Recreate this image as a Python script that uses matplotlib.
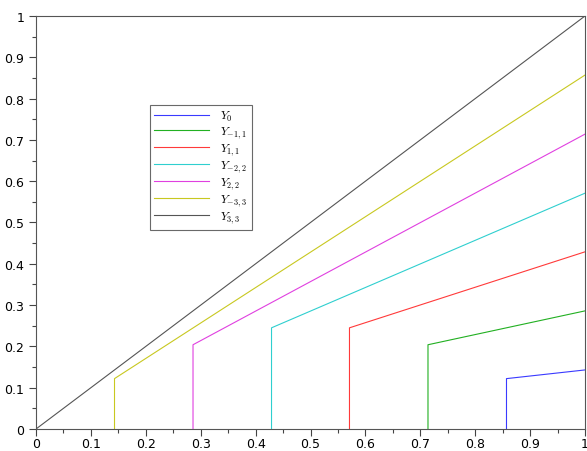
import numpy as np
import matplotlib.pyplot as plt
from matplotlib.ticker import MultipleLocator

# Data: each curve = vertical jump at x0 up to y_top, then straight to (1, y_end)
labels = [r'$Y_{0}$', r'$Y_{-1,1}$', r'$Y_{1,1}$', r'$Y_{-2,2}$',
          r'$Y_{2,2}$', r'$Y_{-3,3}$', r'$Y_{3,3}$']
x0 = [0.857, 0.714, 0.571, 0.429, 0.286, 0.143, 0.0]
y_top = [0.122, 0.204, 0.245, 0.245, 0.204, 0.122, 0.0]
y_end = [0.143, 0.286, 0.429, 0.571, 0.714, 0.857, 1.0]
colors = ['#3a3aff', '#22b022', '#ff3a3a', '#2fcfcf', '#e040e0', '#c8c820', '#555555']

plt.rcParams['mathtext.fontset'] = 'cm'

fig = plt.figure(figsize=(5.87, 4.52), dpi=100)
ax = fig.add_axes([36/587, 22/452, 549/587, 413/452])

for i in range(len(labels)):
    xs = [x0[i], x0[i], 1.0]
    ys = [0.0, y_top[i], y_end[i]]
    ax.plot(xs, ys, color=colors[i], lw=0.8, label=labels[i])

ax.set_xlim(0, 1)
ax.set_ylim(0, 1)
ax.xaxis.set_major_locator(MultipleLocator(0.1))
ax.xaxis.set_minor_locator(MultipleLocator(0.05))
ax.yaxis.set_major_locator(MultipleLocator(0.1))
ax.yaxis.set_minor_locator(MultipleLocator(0.05))
fmt = plt.FuncFormatter(lambda v, p: '%g' % round(v, 2))
ax.xaxis.set_major_formatter(fmt)
ax.yaxis.set_major_formatter(fmt)
ax.tick_params(which='major', length=5, width=0.8, color='#444444', labelsize=9, direction='out')
ax.tick_params(axis='x', which='major', pad=1)
ax.tick_params(which='minor', length=3, width=0.8, color='#444444', direction='out')
for s in ax.spines.values():
    s.set_color('#555555')
    s.set_linewidth(0.8)

leg = ax.legend(loc='upper left', bbox_to_anchor=(0.196, 0.80), fontsize=8.5,
                frameon=True, fancybox=False, edgecolor='#444444',
                handlelength=4.6, handletextpad=1.0, labelspacing=0.1,
                borderpad=0.4)
leg.get_frame().set_linewidth(0.8)

plt.savefig('out.png', dpi=100)
